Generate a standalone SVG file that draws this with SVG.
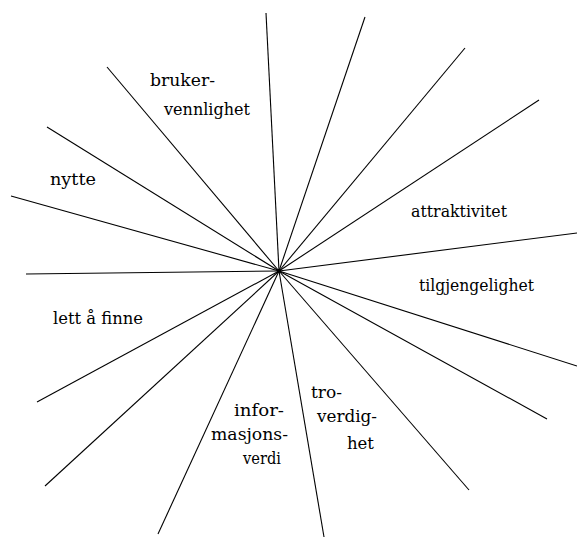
<svg xmlns="http://www.w3.org/2000/svg" width="577" height="539" viewBox="0 0 577 539">
<style>
.ray{stroke:#000;stroke-width:1.1;fill:none}
.t{font-family:"DejaVu Serif",serif;font-size:17px;fill:#000}
</style>
<rect width="577" height="539" fill="#fff"/>
<g id="connectors">
<line class="ray" x1="279" y1="271" x2="266" y2="13"/>
<line class="ray" x1="279" y1="271" x2="365" y2="17"/>
<line class="ray" x1="279" y1="271" x2="465" y2="48"/>
<line class="ray" x1="279" y1="271" x2="539" y2="100"/>
<line class="ray" x1="279" y1="271" x2="577" y2="233"/>
<line class="ray" x1="279" y1="271" x2="577" y2="366"/>
<line class="ray" x1="279" y1="271" x2="547" y2="419"/>
<line class="ray" x1="279" y1="271" x2="469" y2="490"/>
<line class="ray" x1="279" y1="271" x2="324" y2="537"/>
<line class="ray" x1="279" y1="271" x2="158" y2="534"/>
<line class="ray" x1="279" y1="271" x2="45" y2="486"/>
<line class="ray" x1="279" y1="271" x2="37" y2="402"/>
<line class="ray" x1="279" y1="271" x2="26" y2="274"/>
<line class="ray" x1="279" y1="271" x2="11" y2="196"/>
<line class="ray" x1="279" y1="271" x2="47" y2="127"/>
<line class="ray" x1="279" y1="271" x2="107" y2="67"/>
<circle cx="279" cy="271" r="2" fill="#000"/>
</g>
<g id="brukervennlighet"><text class="t" x="150" y="86" textLength="65" lengthAdjust="spacingAndGlyphs">bruker-</text><text class="t" x="164" y="115" textLength="86" lengthAdjust="spacingAndGlyphs">vennlighet</text></g>
<g id="nytte"><text class="t" x="50" y="185" textLength="46" lengthAdjust="spacingAndGlyphs">nytte</text></g>
<g id="attraktivitet"><text class="t" x="411" y="217" textLength="96" lengthAdjust="spacingAndGlyphs">attraktivitet</text></g>
<g id="tilgjengelighet"><text class="t" x="419" y="291" textLength="115" lengthAdjust="spacingAndGlyphs">tilgjengelighet</text></g>
<g id="lettaafinne"><text class="t" x="53" y="324" textLength="90" lengthAdjust="spacingAndGlyphs">lett å finne</text></g>
<g id="informasjonsverdi"><text class="t" x="234" y="416" textLength="50" lengthAdjust="spacingAndGlyphs">infor-</text><text class="t" x="211" y="440" textLength="77" lengthAdjust="spacingAndGlyphs">masjons-</text><text class="t" x="243" y="464" textLength="38" lengthAdjust="spacingAndGlyphs">verdi</text></g>
<g id="troverdighet"><text class="t" x="311" y="398" textLength="31" lengthAdjust="spacingAndGlyphs">tro-</text><text class="t" x="317" y="422" textLength="60" lengthAdjust="spacingAndGlyphs">verdig-</text><text class="t" x="347" y="449" textLength="27" lengthAdjust="spacingAndGlyphs">het</text></g>
</svg>
